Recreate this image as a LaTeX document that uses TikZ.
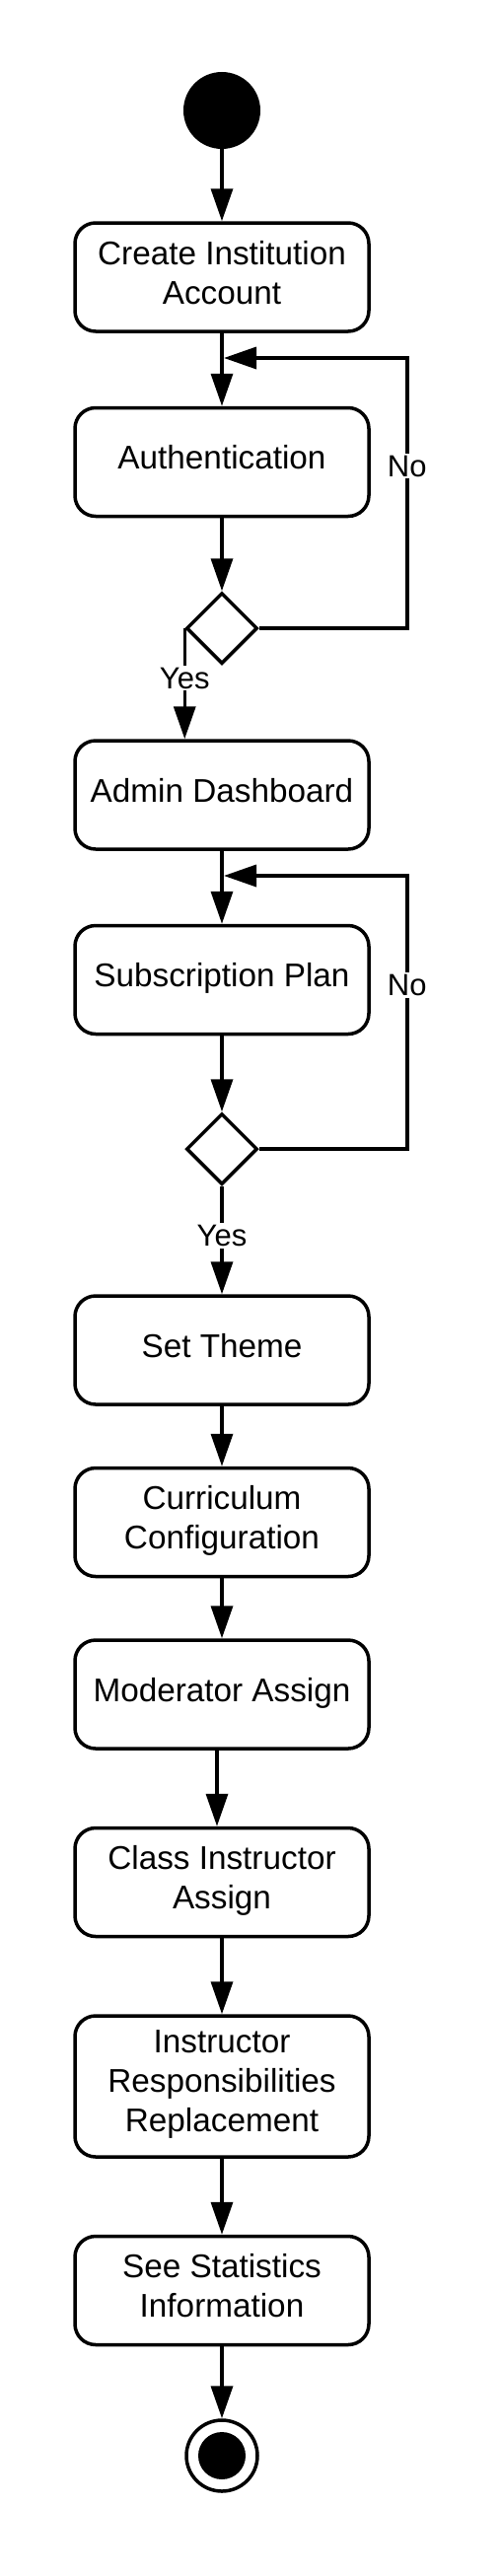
\documentclass[tikz,border=0pt]{standalone}
\usepackage{fontspec}
\setmainfont{Liberation Sans}
\usetikzlibrary{arrows.meta,shapes.geometric}
\def\boxfont{\fontsize{33.3}{40}\selectfont}
\def\guardfont{\fontsize{31}{36}\selectfont}
\tikzset{activity/.style={draw, rectangle, rounded corners=21pt, line width=3.5pt,
		minimum width=298pt, minimum height=110pt, align=center, font=\boxfont, text depth=10pt},
	decision/.style={draw, diamond, line width=3.5pt, minimum width=72pt, minimum height=72pt, inner sep=0pt},
	flow/.style={line width=3.5pt, -{Triangle[length=33pt,width=22pt]}},
	guard/.style={fill=white, font=\guardfont, inner sep=2pt}}

\begin{document}
\begin{tikzpicture}[x=1pt,y=-1pt]
		\useasboundingbox (0,0) rectangle (508,2612);
		\node[circle, fill, minimum size=78pt, inner sep=0pt] (start) at (225,112) {};
		\node[activity] (create) at (225,281) {Create Institution\\Account};
		\node[activity] (auth) at (225,468.5) {Authentication};
		\node[decision] (d1) at (225,637) {};
		\node[activity] (admin) at (225,806) {Admin Dashboard};
		\node[activity] (plan) at (225,993.5) {Subscription Plan};
		\node[decision] (d2) at (225,1165) {};
		\node[activity] (theme) at (225,1369) {Set Theme};
		\node[activity] (curr) at (225,1543.5) {Curriculum\\Configuration};
		\node[activity] (mod) at (225,1718) {Moderator Assign};
		\node[activity] (cls) at (225,1908.5) {Class Instructor\\Assign};
		\node[activity, minimum height=143pt] (resp) at (225,2115.5) {Instructor\\Responsibilities\\Replacement};
		\node[activity] (stats) at (225,2322.5) {See Statistics\\Information};
		\node[circle, draw, line width=3.5pt, minimum size=72pt, inner sep=0pt] (stop) at (225,2490) {};
		\node[circle, fill, minimum size=48pt, inner sep=0pt] (stopdot) at (stop) {};
		
		\foreach \a/\b in {start/create, create/auth, auth/d1, admin/plan, plan/d2,
			theme/curr, curr/mod, cls/resp, resp/stats, stats/stop}
		\draw[flow] (\a) -- (\b);
		\draw[flow] ([xshift=-5pt]mod.south) -- ([xshift=-5pt]cls.north);
		
		\draw[flow] (d1.west) -- node[guard, pos=0.45] {Yes} (d1.west |- admin.north);
		\draw[flow] (d2) -- node[guard, pos=0.46] {Yes} (theme);
		
		\coordinate (back1) at (227,363);
		\coordinate (back2) at (227,888);
		\draw[flow] (d1.east) -- ++(150,0) |- node[guard, pos=0.3] {No} (back1);
		\draw[flow] (d2.east) -- ++(150,0) |- node[guard, pos=0.3] {No} (back2);
\end{tikzpicture}
\end{document}
